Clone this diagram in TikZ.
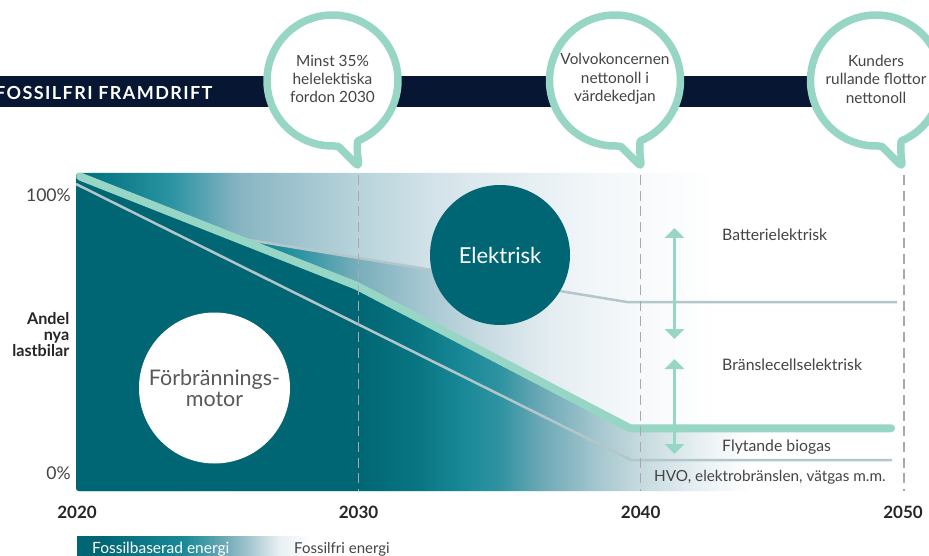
\documentclass[tikz,border=0pt]{standalone}
\usepackage{fontspec}
\setmainfont{Lato}
\usetikzlibrary{arrows.meta}
\definecolor{teald}{HTML}{006673}
\definecolor{mint}{HTML}{97D5C4}
\definecolor{navy}{HTML}{061633}
\definecolor{linegray}{HTML}{B3C7CB}
\definecolor{dashgray}{HTML}{A9A9A9}
\definecolor{txt}{HTML}{444444}
\definecolor{aA}{HTML}{006F7C}\definecolor{aB}{HTML}{107E8C}\definecolor{aC}{HTML}{2A93A2}\definecolor{aD}{HTML}{88B5C2}\definecolor{aE}{HTML}{B8D3DB}\definecolor{aF}{HTML}{D5E4EA}\definecolor{aG}{HTML}{F3F7F9}
\definecolor{wA}{HTML}{0B7F8C}\definecolor{wB}{HTML}{2C94A2}\definecolor{wC}{HTML}{78AEBB}\definecolor{wD}{HTML}{A3C6D0}\definecolor{wE}{HTML}{C5D9E0}\definecolor{wF}{HTML}{E4EDF1}\definecolor{wG}{HTML}{F5F8FA}
\definecolor{bA}{HTML}{0A7683}\definecolor{bB}{HTML}{1A8A98}\definecolor{bC}{HTML}{2F93A1}\definecolor{bD}{HTML}{6AA8B5}\definecolor{bE}{HTML}{A8C8D0}\definecolor{bF}{HTML}{C5DADE}\definecolor{bG}{HTML}{E8F0F3}
\pgfdeclarehorizontalshading{gradA}{100bp}{color(0bp)=(aA);color(25bp)=(aA);color(28.26bp)=(aB);color(31.97bp)=(aC);color(37.17bp)=(aD);color(45.92bp)=(aE);color(52bp)=(aF);color(63.87bp)=(aG);color(72.55bp)=(white);color(100bp)=(white)}
\pgfdeclarehorizontalshading{gradW}{100bp}{color(0bp)=(wA);color(37.9bp)=(wA);color(41.6bp)=(wB);color(45.9bp)=(wC);color(50.5bp)=(wD);color(55bp)=(wE);color(60.2bp)=(wF);color(66.1bp)=(wG);color(72.55bp)=(white);color(100bp)=(white)}
\pgfdeclarehorizontalshading{gradB}{100bp}{color(0bp)=(teald);color(45.92bp)=(teald);color(50.5bp)=(bA);color(53.85bp)=(bB);color(56.45bp)=(bC);color(59.4bp)=(bD);color(63.87bp)=(bE);color(66.84bp)=(bF);color(71.3bp)=(bG);color(75bp)=(white);color(100bp)=(white)}
\pgfdeclarehorizontalshading{gradL}{100bp}{color(0bp)=(teald);color(30bp)=(teald);color(48bp)=(bB);color(56bp)=(bD);color(62bp)=(bE);color(68bp)=(bG);color(75bp)=(white);color(100bp)=(white)}
\tikzset{
  x=1pt,y=-1pt,
  bubblering/.style={draw=mint,fill=white,line width=7.5pt,line join=round},
  bubbletext/.style={align=center,font=\fontsize{15.4}{18.4}\selectfont,text=txt,inner sep=0pt},
  guideline/.style={draw=dashgray,line width=1.5pt,dash pattern=on 10pt off 5.7pt},
  graythin/.style={draw=linegray,line width=2.5pt,line join=round},
  thickmint/.style={draw=mint,line width=8pt,line cap=round,line join=round},
  rangearrow/.style={draw=mint,line width=3.5pt,{Triangle[width=19pt,length=10pt]}-{Triangle[width=19pt,length=10pt]}},
  sidelabel/.style={font=\fontsize{15.8}{18}\selectfont,text=txt,inner sep=0pt,anchor=west},
  yearlab/.style={font=\bfseries\fontsize{17}{18}\selectfont,text=black!85,inner sep=0pt},
  pctlab/.style={font=\fontsize{17.6}{20}\selectfont,text=txt,inner sep=0pt,anchor=east},
}
\newcommand{\speech}[3]{%
  \draw[bubblering,shift={(#1,80.5)}] (91.3:65.5) arc[start angle=91.3,end angle=427.4,radius=65.5]
     .. controls (24,70) and (25.5,76) .. (26,83)
     .. controls (26,85) and (25,85) .. (23,83)
     -- (6,66) .. controls (4,65) .. (1.5,65.5) -- cycle;
  \node[bubbletext] (#2) at (#1,79) {#3};
}
\begin{document}
\begin{tikzpicture}
\useasboundingbox (0,0) rectangle (929,556);
\clip (0,0) rectangle (929,556);
\fill[white] (0,0) rectangle (929,556);
% heading bar
\fill[navy] (0,76) rectangle (876,107);
\node[font=\bfseries\fontsize{18}{20}\selectfont\addfontfeature{LetterSpace=7.8},text=white,inner sep=0pt,anchor=west] (head) at (-5,92.5) {FOSSILFRI FRAMDRIFT};
% chart background
\begin{scope}
  \clip[rounded corners=3pt] (76,173) rectangle (750,491);
  \shade[shading=gradA] (76,173) rectangle (750,491);
  \begin{scope}
    \clip (243,239) -- (627,302) -- (717,302) -- (717,428) -- (630,428) -- (356,285.5) -- cycle;
    \shade[shading=gradW] (76,173) rectangle (750,491);
  \end{scope}
  \begin{scope}
    \clip (70,173) -- (78,175.5) -- (356,285.5) -- (630,428) -- (750,428) -- (750,491) -- (70,491) -- cycle;
    \shade[shading=gradB] (76,173) rectangle (750,491);
  \end{scope}
\end{scope}
% curves
\coordinate (u0) at (243,239); \coordinate (u1) at (627,302); \coordinate (u2) at (897,302);
\coordinate (l0) at (76,184); \coordinate (l1) at (631,460); \coordinate (l2) at (892,460);
\coordinate (m0) at (80,176.5); \coordinate (m1) at (356,285.5); \coordinate (m2) at (630,428.3); \coordinate (m3) at (891,428.3);
\draw[graythin] (u0) -- (u1) -- (u2);
\draw[graythin] (l0) -- (l1) -- (l2);
\draw[thickmint] (m0) -- (m1) -- (m2) -- (m3);
% guides
\coordinate (g1a) at (358.5,175); \coordinate (g1b) at (358.5,491);
\coordinate (g2a) at (640.7,175); \coordinate (g2b) at (640.7,491);
\coordinate (g3a) at (904,175); \coordinate (g3b) at (904,491);
\draw[guideline] (g1a) -- (g1b);
\draw[guideline] (g2a) -- (g2b);
\draw[guideline] (g3a) -- (g3b);
% ranges
\coordinate (r1a) at (674.5,228); \coordinate (r1b) at (674.5,339);
\coordinate (r2a) at (674.5,359); \coordinate (r2b) at (674.5,454);
\draw[rangearrow] (r1a) -- (r1b);
\draw[rangearrow] (r2a) -- (r2b);
% circles
\node[circle,fill=teald,minimum size=140pt,inner sep=0pt,text=white,font=\fontsize{22}{24}\selectfont] (elektrisk) at (500,255) {Elektrisk};
\node[circle,fill=white,minimum size=151pt,inner sep=0pt,align=center,text=black!65,font=\fontsize{21.5}{21.5}\selectfont] (forbr) at (214.5,388) {Förbrännings-\\motor};
% bubbles
\speech{332.5}{b1}{Minst 35\%\\helelektiska\\fordon 2030}
\speech{615}{b2}{Volvokoncernen\\nettonoll i\\värdekedjan}
\speech{876}{b3}{Kunders\\rullande flottor\\nettonoll}
% labels
\node[sidelabel] (batt) at (722,235) {Batterielektrisk};
\node[sidelabel] (brans) at (722,365) {Bränslecellselektrisk};
\node[sidelabel] (flyt) at (722,447) {Flytande biogas};
\node[sidelabel,font=\fontsize{15.3}{18}\selectfont] (hvo) at (654,477) {HVO, elektrobränslen, vätgas m.m.};
\node[pctlab] (p100) at (71,195) {100\%};
\node[pctlab] (p0) at (71,473.5) {0\%};
\node[font=\bfseries\fontsize{16.2}{16}\selectfont,text=black!85,align=right,inner sep=0pt,anchor=east] (andel) at (69.5,335) {Andel\\nya\\lastbilar};
\node[yearlab] (y20) at (77,512) {2020};
\node[yearlab] (y30) at (358.5,512) {2030};
\node[yearlab] (y40) at (640.7,512) {2040};
\node[yearlab] (y50) at (903,512) {2050};
% legend
\shade[shading=gradL] (77,536) rectangle (312,560);
\node[font=\fontsize{15.5}{16}\selectfont,text=white,inner sep=0pt,anchor=base west] (fb) at (92,553) {Fossilbaserad energi};
\node[font=\fontsize{15}{16}\selectfont,text=txt,inner sep=0pt,anchor=base west] (ff) at (294,553) {Fossilfri energi};
\end{tikzpicture}
\end{document}
